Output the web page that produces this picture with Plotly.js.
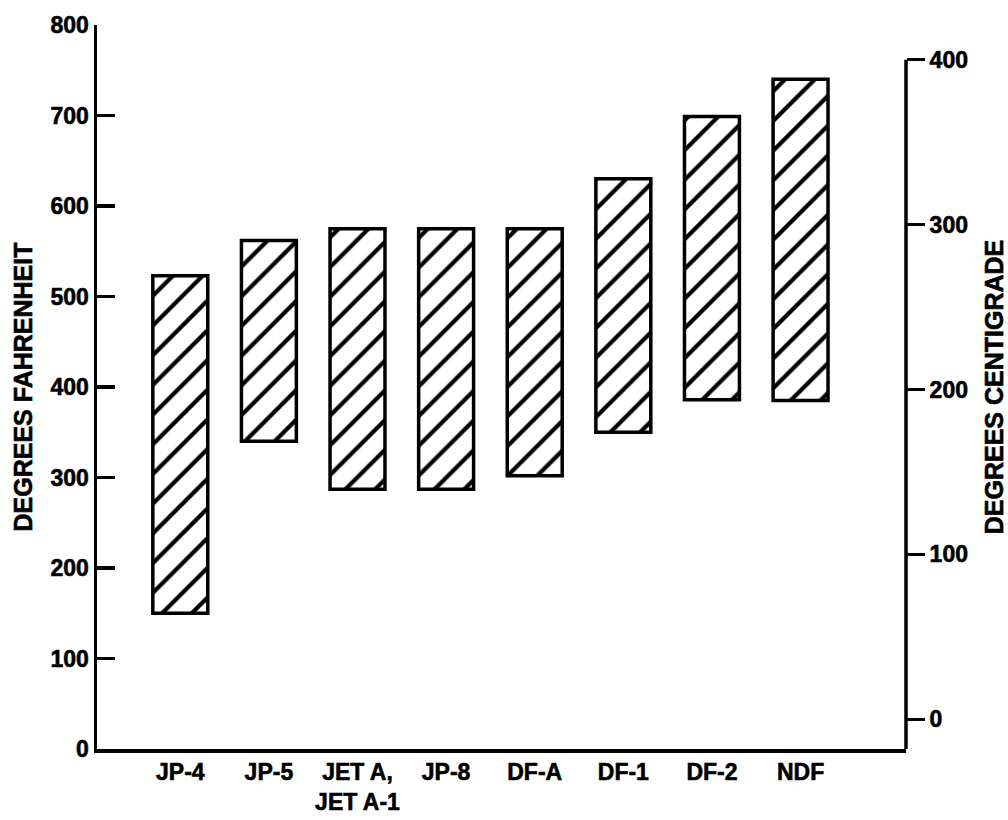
<!DOCTYPE html>
<html>
<head>
<meta charset="utf-8">
<script src="https://cdn.plot.ly/plotly-3.0.1.min.js"></script>
<style>
html,body{margin:0;padding:0;background:#fff;}
#chart{width:1008px;height:820px;}
#chart text{stroke:#000;stroke-width:0.6px;}
</style>
</head>
<body>
<div id="chart"></div>
<script>
// Fuel boiling ranges (degrees Fahrenheit)
const fuels = ["JP-4", "JP-5", "JET A,<br>JET A-1", "JP-8", "DF-A", "DF-1", "DF-2", "NDF"];
const lowF  = [150, 340, 287, 287, 302, 350, 386, 385];
const highF = [523, 562, 575, 575, 575, 630, 699, 740];

const fTicks = [0, 100, 200, 300, 400, 500, 600, 700, 800];
const cTicks = [0, 100, 200, 300, 400];

const fRange = [0, 800];
const cRange = [-18, 421];   // Celsius scale as drawn on the right-hand axis

const FONT = "Liberation Sans, Arial, sans-serif";
const tickFont = {family: FONT, size: 23, color: "#000", weight: "bold"};
const titleFont = {family: FONT, size: 25, color: "#000", weight: "bold"};

const trace = {
  type: "bar",
  x: fuels,
  base: lowF,
  y: highF.map((h, i) => h - lowF[i]),
  width: 0.62,
  marker: {
    color: "white",
    line: {color: "black", width: 3.5},
    pattern: {shape: "/", fgcolor: "black", bgcolor: "white", size: 21, solidity: 0.2, fillmode: "replace"}
  },
  hoverinfo: "skip",
  showlegend: false
};

// invisible trace to activate the right-hand Celsius axis
const ghost = {
  type: "scatter", mode: "markers", x: [fuels[0]], y: [cTicks[0]], yaxis: "y2",
  marker: {opacity: 0}, hoverinfo: "skip", showlegend: false
};

const layout = {
  width: 1008, height: 820,
  margin: {l: 97, r: 102, t: 25, b: 71},
  paper_bgcolor: "white", plot_bgcolor: "white",
  xaxis: {
    type: "category",
    range: [-0.94, 8.19],
    showline: true, linecolor: "black", linewidth: 3.5,
    ticks: "", showgrid: false, zeroline: false,
    tickfont: tickFont,
    automargin: false
  },
  yaxis: {
    range: fRange, tickvals: fTicks,
    showline: true, linecolor: "black", linewidth: 3.5,
    ticks: "inside", ticklen: 18, tickwidth: 3.5, tickcolor: "black",
    showgrid: false, zeroline: false,
    tickfont: tickFont,
    title: {text: "DEGREES FAHRENHEIT", font: titleFont, standoff: 12},
    automargin: false
  },
  yaxis2: {
    overlaying: "y", side: "right",
    range: cRange, tickvals: cTicks,
    showline: false,
    ticks: "outside", ticklen: 18, tickwidth: 3.5, tickcolor: "black",
    showgrid: false, zeroline: false,
    tickfont: tickFont,
    title: {text: "DEGREES CENTIGRADE", font: titleFont, standoff: 20},
    automargin: false
  },
  shapes: [{
    type: "line", xref: "paper", yref: "y2",
    x0: 1, x1: 1, y0: cRange[0], y1: cTicks[cTicks.length - 1],
    line: {color: "black", width: 3.5}
  }]
};

Plotly.newPlot("chart", [trace, ghost], layout, {displayModeBar: false, staticPlot: true});
</script>
</body>
</html>
